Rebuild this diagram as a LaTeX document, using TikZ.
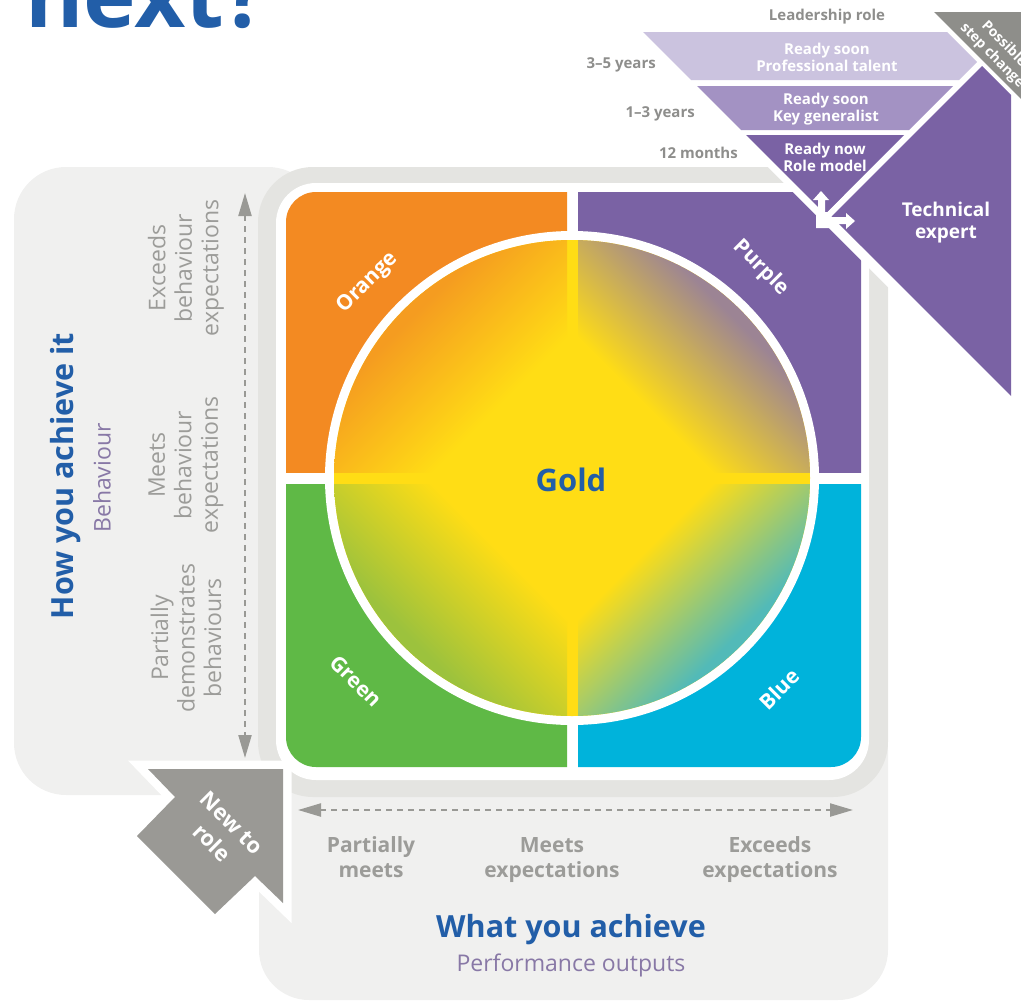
\documentclass[tikz,border=0pt]{standalone}
\usepackage{fontspec}
\setmainfont{Open Sans}
\usetikzlibrary{arrows.meta}
\definecolor{bluetxt}{HTML}{225EA8}
\definecolor{grayA}{HTML}{F0F0EF}
\definecolor{grayB}{HTML}{E4E4E1}
\definecolor{qorange}{HTML}{F38A22}
\definecolor{qpurple}{HTML}{7A62A4}
\definecolor{qgreen}{HTML}{5FB946}
\definecolor{qblue}{HTML}{00B3DB}
\definecolor{goldc}{HTML}{FFDD15}
\definecolor{eorange}{HTML}{F59C20}
\definecolor{epurple}{HTML}{9C8494}
\definecolor{egreen}{HTML}{9CC23D}
\definecolor{eblue}{HTML}{52BAB8}
\definecolor{layA}{HTML}{CBC3DF}
\definecolor{layB}{HTML}{A392C3}
\definecolor{darkgray}{HTML}{8E8E8A}
\definecolor{arrowgray}{HTML}{9A9995}
\definecolor{labgray}{HTML}{8E8E8C}
\definecolor{txtgray}{HTML}{9C9C99}
\definecolor{txtpurple}{HTML}{8878A6}
\definecolor{dashgray}{HTML}{999995}
\pgfdeclarehorizontalshading{shorange}{100bp}{color(0bp)=(goldc); color(35bp)=(goldc); color(62bp)=(eorange); color(100bp)=(eorange)}
\pgfdeclarehorizontalshading{shpurple}{100bp}{color(0bp)=(goldc); color(35bp)=(goldc); color(62bp)=(epurple); color(100bp)=(epurple)}
\pgfdeclarehorizontalshading{shgreen}{100bp}{color(0bp)=(goldc); color(35bp)=(goldc); color(62bp)=(egreen); color(100bp)=(egreen)}
\pgfdeclarehorizontalshading{shblue}{100bp}{color(0bp)=(goldc); color(35bp)=(goldc); color(62bp)=(eblue); color(100bp)=(eblue)}
\begin{document}
\begin{tikzpicture}[x=1pt,y=-1pt,
  lbl/.style={font=\bfseries\fontsize{15}{17}\selectfont, text=labgray, inner sep=0},
  laytxt/.style={font=\bfseries\fontsize{15}{17}\selectfont, text=white, align=center, inner sep=0},
  qlbl/.style={font=\bfseries\fontsize{21}{24}\selectfont, text=white, inner sep=0},
  sidetxt/.style={font=\fontsize{23}{26.5}\selectfont, text=txtgray, align=center, rotate=90, inner sep=0},
  bottxt/.style={font=\bfseries\fontsize{21}{25}\selectfont, text=txtgray, align=center, inner sep=0},
  headtxt/.style={font=\bfseries\fontsize{30.5}{34}\selectfont, text=bluetxt, inner sep=0},
  subtxt/.style={font=\fontsize{23}{26}\selectfont, text=txtpurple, inner sep=0},
  dasharrow/.style={draw=dashgray, line width=2.2pt, dash pattern=on 6pt off 5pt,
     {Triangle[length=23pt,width=13pt]}-{Triangle[length=23pt,width=13pt]}}]
\useasboundingbox (0,0) rectangle (1021,1002);
\begin{scope}
\clip (0,0) rectangle (1021,1002);
% title fragment
\node[anchor=base west, inner sep=0, font=\bfseries\fontsize{89}{89}\selectfont, text=bluetxt] (nxt) at (25,27) {next?};
% background panels
\fill[grayA, rounded corners=52pt] (14,167) rectangle (320,795);
\fill[grayA, rounded corners=50pt] (259,700) rectangle (888,1000);
\fill[grayB, rounded corners=55pt] (258,167) rectangle (888,797);
\fill[white, rounded corners=40pt] (276,183) rectangle (869,780);
% quadrants
\begin{scope}\clip (286,192) rectangle (567,472);
  \fill[qorange, rounded corners=30pt] (286,192) rectangle (640,540);\end{scope}
\begin{scope}\clip (578,192) rectangle (861,472);
  \fill[qpurple, rounded corners=30pt] (500,192) rectangle (861,540);\end{scope}
\begin{scope}\clip (286,484) rectangle (567,767);
  \fill[qgreen, rounded corners=30pt] (286,400) rectangle (640,767);\end{scope}
\begin{scope}\clip (578,484) rectangle (861,767);
  \fill[qblue, rounded corners=30pt] (500,400) rectangle (861,767);\end{scope}
% circle
\fill[white] (572,478) circle[radius=247];
\fill[goldc] (572,478) circle[radius=238];
\begin{scope}
  \clip (572,478) circle[radius=238];
  \shade[shading=shorange, shading angle=135] (334,240) rectangle (567,472);
  \shade[shading=shpurple, shading angle=45] (578,240) rectangle (810,472);
  \shade[shading=shgreen, shading angle=225] (334,484) rectangle (567,716);
  \shade[shading=shblue, shading angle=-45] (578,484) rectangle (810,716);
\end{scope}
\node[headtxt, font=\bfseries\fontsize{31}{34}\selectfont] (gold) at (571,480) {Gold};
\node[qlbl, rotate=45] (orange) at (368,283) {Orange};
\node[qlbl, rotate=-45] (purple) at (761,268) {Purple};
\node[qlbl, rotate=-45] (green) at (356,681) {Green};
\node[qlbl, rotate=45] (blue) at (779,689) {Blue};
% white gap lines
\draw[white, line width=10pt] (730,122) -- (1030,422);
\draw[white, line width=7pt] (826,218) -- (995,49);
% layers and technical expert
\fill[darkgray] (934,12) -- (1040,12) -- (1040,118) -- cycle;
\fill[layA] (643,32) -- (947,32) -- (977,62) -- (959,80) -- (691,80) -- cycle;
\fill[layB] (697,86) -- (953,86) -- (909,130) -- (741,130) -- cycle;
\fill[qpurple] (746,135) -- (904,135) -- (825,214) -- cycle;
\fill[qpurple] (982,66) -- (1011,95) -- (1011,396) -- (831.5,216.5) -- cycle;
\fill[white] (816,228) -- (816,212) -- (818,212) -- (818,200) -- (813,200) -- (821,191) -- (829,200) -- (825,200) -- (825,212) -- (829,212) -- (829,217) -- (846,217) -- (846,213) -- (855,221) -- (846,229) -- (846,224) -- (829,224) -- (829,228) -- cycle;
\node[lbl] (lead) at (827,17) {Leadership role};
\node[lbl, anchor=east] (y35) at (656,65) {3–5 years};
\node[lbl, anchor=east] (y13) at (695,114) {1–3 years};
\node[lbl, anchor=east] (m12) at (738,153) {12 months};
\node[laytxt] (prof) at (827,57) {Ready soon\\Professional talent};
\node[laytxt] (keyg) at (826,109) {Ready soon\\Key generalist};
\node[laytxt] (rolem) at (825,157) {Ready now\\Role model};
\node[laytxt, font=\bfseries\fontsize{19}{22}\selectfont] (tech) at (946,223) {Technical\\expert};
\node[laytxt, rotate=-45, font=\bfseries\fontsize{14}{16.5}\selectfont] (step) at (998,50) {Possible\\step change};
% left side texts
\node[headtxt, rotate=90] (how) at (66,476) {How you achieve it};
\node[subtxt, rotate=90] (beh) at (102,478) {Behaviour};
\node[sidetxt] (exb) at (186,268) {Exceeds\\behaviour\\expectations};
\node[sidetxt] (meb) at (186,465) {Meets\\behaviour\\expectations};
\node[sidetxt] (pdb) at (186,638) {Partially\\demonstrates\\behaviours};
\coordinate (vtop) at (245,193);
\coordinate (vbot) at (245,758);
\draw[dasharrow] (vtop) -- (vbot);
% bottom texts
\coordinate (hleft) at (298,810);
\coordinate (hright) at (853,810);
\draw[dasharrow] (hleft) -- (hright);
\node[bottxt] (pm) at (371,857) {Partially\\meets};
\node[bottxt] (me) at (552,860) {Meets\\expectations};
\node[bottxt] (ee) at (770,860) {Exceeds\\expectations};
\node[headtxt] (what) at (571,930) {What you achieve};
\node[subtxt] (perf) at (571,965) {Performance outputs};
% new to role arrow
\draw[white, line width=17pt, line join=miter] (148,769) -- (283,769) -- (283,903) -- (255,876) -- (215,914) -- (137,836) -- (175,797) -- cycle;
\fill[arrowgray] (148,769) -- (283,769) -- (283,903) -- (255,876) -- (215,914) -- (137,836) -- (175,797) -- cycle;
\node[laytxt, rotate=-45, font=\bfseries\fontsize{22}{28}\selectfont] (newrole) at (222,833) {New to\\role};
\end{scope}
\end{tikzpicture}
\end{document}
